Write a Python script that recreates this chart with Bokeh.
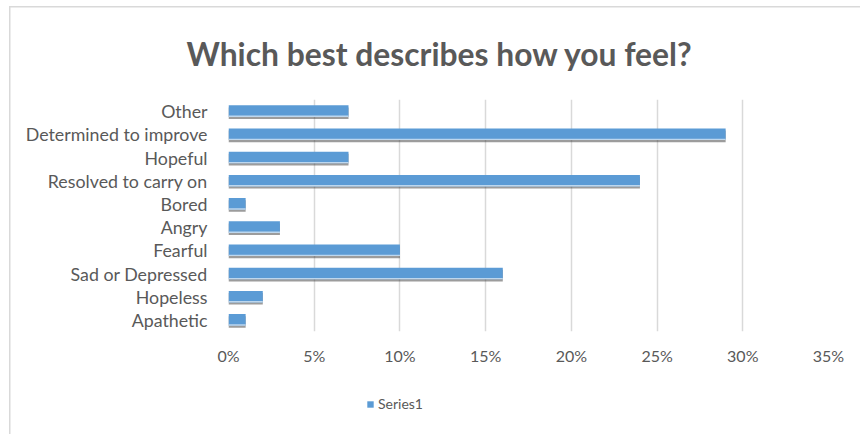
from bokeh.plotting import figure
from bokeh.layouts import column
from bokeh.models import FactorRange, Range1d, NumeralTickFormatter, Legend, LegendItem, Title, FixedTicker
from bokeh.transform import dodge
from bokeh.embed import file_html
from bokeh.resources import INLINE

categories = ["Apathetic", "Hopeless", "Sad or Depressed", "Fearful", "Angry",
              "Bored", "Resolved to carry on", "Hopeful", "Determined to improve", "Other"]
values = [0.01, 0.02, 0.16, 0.10, 0.03, 0.01, 0.24, 0.07, 0.29, 0.07]
x_ticks = [0, 0.05, 0.10, 0.15, 0.20, 0.25, 0.30, 0.35]
series_name = "Series1"
title_text = "Which best describes how you feel?"

FONT = "Lato"
TXT = "#595959"
BLUE = "#5B9BD5"
EDGE = "linear-gradient(#d9d9d9,#d9d9d9) 9px 6px / 1.5px 100% no-repeat, " \
       "linear-gradient(#d9d9d9,#d9d9d9) 9px 6px / 100% 1.5px no-repeat, white"
EDGE2 = "linear-gradient(#d9d9d9,#d9d9d9) 9px 0px / 1.5px 100% no-repeat, white"

p = figure(width=860, height=380, y_range=FactorRange(*categories),
           x_range=Range1d(0, 0.35), output_backend="svg", toolbar_location=None,
           min_border_left=228, min_border_right=32, min_border_top=99, min_border_bottom=49)
p.outline_line_color = None
p.background_fill_color = "white"
p.border_fill_color = None
p.styles = {"background": EDGE}

src = dict(cat=categories, val=values)
p.hbar(y=dodge("cat", -0.09, range=p.y_range), right="val", left=0, height=0.5,
       source=src, fill_color="#3a3a3a", fill_alpha=0.5, line_color=None)
r = p.hbar(y="cat", right="val", left=0, height=0.5, source=src,
           fill_color=BLUE, line_color=None)
p.hbar(y=dodge("cat", -0.22, range=p.y_range), right="val", left=0, height=0.06,
       source=src, fill_color="#ffffff", fill_alpha=0.6, line_color=None)

p.xaxis.ticker = FixedTicker(ticks=x_ticks)
p.xaxis.formatter = NumeralTickFormatter(format="0%")
p.xgrid.grid_line_color = "#d9d9d9"
p.xgrid.grid_line_width = 1.5
p.ygrid.grid_line_color = None
for ax in (p.xaxis, p.yaxis):
    ax.axis_line_color = None
    ax.major_tick_line_color = None
    ax.minor_tick_line_color = None
    ax.major_label_text_font = FONT
    ax.major_label_text_color = TXT
p.xaxis.major_label_text_font_size = "16px"
p.yaxis.major_label_text_font_size = "17.8px"
p.xaxis.major_label_standoff = 8
p.yaxis.major_label_standoff = 15

t = Title(text=title_text, align="left", text_font=FONT, text_font_size="31.8px",
          text_font_style="bold", text_color=TXT, offset=-42, standoff=54)
p.add_layout(t, "above")

# legend strip below the chart (its frame is aligned with the chart's frame)
lg = figure(width=860, height=54, x_range=Range1d(0, 1), y_range=Range1d(0, 1),
            output_backend="svg", toolbar_location=None,
            x_axis_location=None, y_axis_location=None,
            min_border_left=0, min_border_right=0, min_border_top=0, min_border_bottom=0)
lg.outline_line_color = None
lg.grid.grid_line_color = None
lg.background_fill_color = None
lg.border_fill_color = None
lg.styles = {"background": EDGE2}
# legend proxy: lies outside the visible range, only its style is used by the legend
lr = lg.hbar(y=[-5], right=[0.5], left=0, height=0.5, fill_color=BLUE, line_color=None)
legend = Legend(items=[LegendItem(label=series_name, renderers=[lr])],
                location=(138, 22), orientation="horizontal",
                label_text_font=FONT, label_text_color=TXT, label_text_font_size="14px",
                glyph_width=8, glyph_height=8, border_line_color=None,
                background_fill_alpha=0, padding=0, margin=0, label_standoff=4)
lg.add_layout(legend, "center")

layout = column(p, lg, spacing=0)
open("out.html", "w").write(file_html(layout, INLINE))
